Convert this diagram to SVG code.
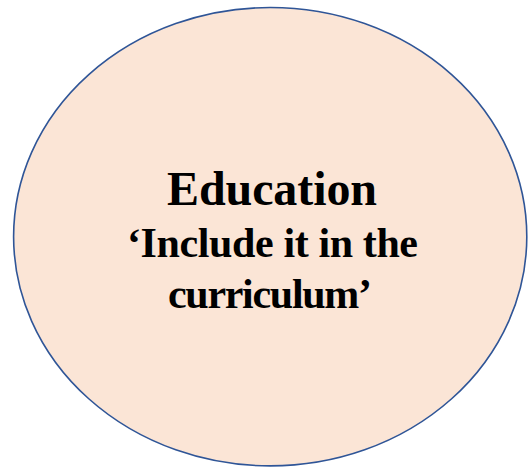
<svg xmlns="http://www.w3.org/2000/svg" width="529" height="468" viewBox="0 0 529 468">
  <style>
    .bubble { fill: #FBE5D6; stroke: #2F5597; stroke-width: 1.6; }
    .label { font-family: "Liberation Serif", "Times New Roman", serif; font-weight: bold; fill: #000; text-anchor: middle; }
  </style>
  <rect width="529" height="468" fill="#FFFFFF"/>
  <g id="education">
    <ellipse class="bubble" cx="270.2" cy="236.7" rx="256.6" ry="229.2"/>
    <text class="label" x="272" y="205" font-size="48" textLength="210" lengthAdjust="spacing">Education</text>
    <text class="label" x="272.5" y="257" font-size="42" textLength="291" lengthAdjust="spacing">‘Include it in the</text>
    <text class="label" x="270" y="308" font-size="42" textLength="204" lengthAdjust="spacing">curriculum’</text>
  </g>
</svg>
